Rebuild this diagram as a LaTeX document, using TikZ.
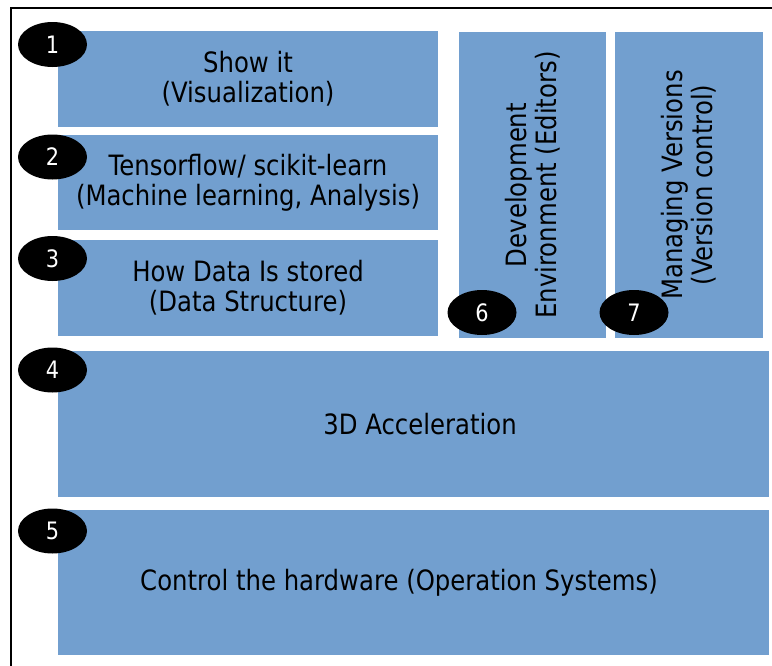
\documentclass[tikz,border=0pt]{standalone}
\usepackage{fontspec}
\setmainfont{DejaVu Sans}[FakeStretch=0.87]
\usetikzlibrary{shapes.geometric}
\definecolor{boxblue}{HTML}{729FCF}
\tikzset{
  blockbox/.style={rectangle, fill=boxblue, draw=none, inner sep=0pt, align=center,
    font=\fontsize{21}{22.5}\selectfont, text=black},
  blocktext/.style={inner sep=0pt, align=center, font=\fontsize{21}{22.5}\selectfont, text=black},
  numbadge/.style={ellipse, fill=black, draw=none, inner sep=0pt,
    minimum width=51.75pt, minimum height=33.75pt, text=white,
    font=\fontsize{18}{19}\selectfont},
}
\begin{document}
\begin{tikzpicture}[x=0.75pt, y=-0.75pt]
\useasboundingbox (0,0) rectangle (772,665);
\fill[white] (0,0) rectangle (772,665);
% frame
\coordinate (fbl) at (11,667);
\coordinate (ftl) at (11,8);
\coordinate (ftr) at (774,8);
\draw[line width=1.9pt] (fbl) -- (ftl) -- (ftr);
% boxes
\node[blockbox, minimum width=285pt, minimum height=72pt] (b1) at (248,79) {Show it\\(Visualization)};
\node[blockbox, minimum width=285pt, minimum height=71.25pt] (b2) at (248,182.5) {Tensorflow/ scikit-learn\\(Machine learning, Analysis)};
\node[blockbox, minimum width=285pt, minimum height=72pt] (b3) at (248,288) {How Data Is stored\\(Data Structure)};
\node[blockbox, minimum width=110.25pt, minimum height=229.5pt] (b6) at (532.5,185) {};
\node[blocktext, rotate=90] (t6) at (b6.center) {Development\\Environment (Editors)};
\node[blockbox, minimum width=111pt, minimum height=229.5pt] (b7) at (689,185) {};
\node[blocktext, rotate=90] (t7) at (b7.center) {Managing Versions\\(Version control)};
\node[blockbox, minimum width=533.25pt, minimum height=109.5pt] (b4) at (413.5,424) {};
\node[blocktext] (t4) at (420,424) {3D Acceleration};
\node[blockbox, minimum width=533.25pt, minimum height=108.75pt] (b5) at (413.5,582.5) {};
\node[blocktext] (t5) at (399,582.5) {Control the hardware (Operation Systems)};
% badges
\node[numbadge] (e1) at (52.5,44.5) {1};
\node[numbadge] (e2) at (52.5,157) {2};
\node[numbadge] (e3) at (52.5,258.5) {3};
\node[numbadge] (e4) at (52.5,370) {4};
\node[numbadge] (e5) at (52.5,531) {5};
\node[numbadge] (e6) at (482,312.5) {6};
\node[numbadge] (e7) at (634,312.5) {7};
\end{tikzpicture}
\end{document}
